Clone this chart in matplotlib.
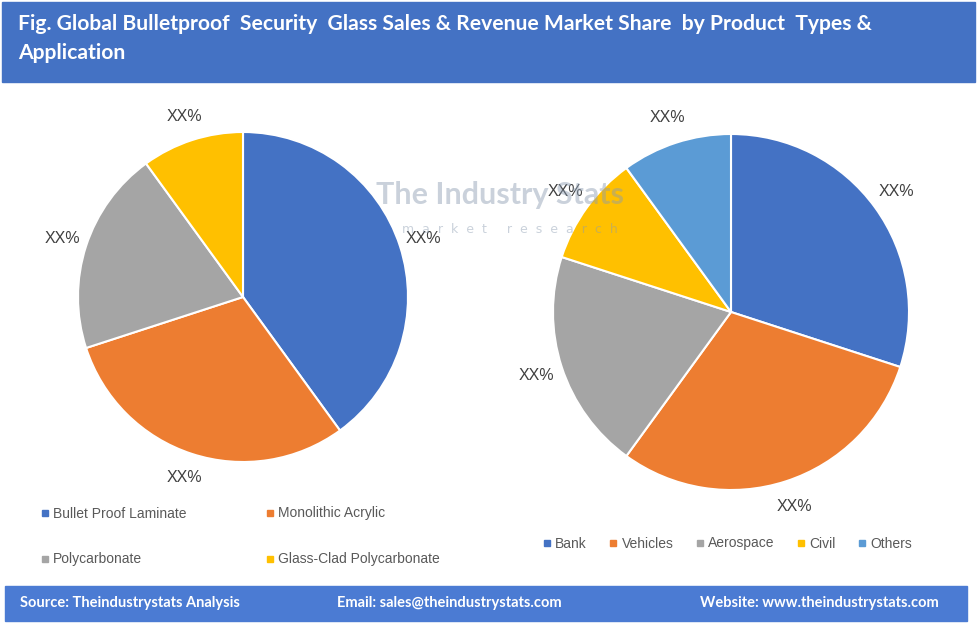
"""Bulletproof security glass market share - two pies with header/footer bands."""
import matplotlib
matplotlib.use("Agg")
import matplotlib.pyplot as plt
from matplotlib.patches import Rectangle
from matplotlib.lines import Line2D

# data
types = ["Bullet Proof Laminate", "Monolithic Acrylic", "Polycarbonate", "Glass-Clad Polycarbonate"]
type_share = [40, 30, 20, 10]
apps = ["Bank", "Vehicles", "Aerospace", "Civil", "Others"]
app_share = [30, 30, 20, 10, 10]
type_labels = ["XX%"] * len(types)
app_labels = ["XX%"] * len(apps)

COL = ["#4472C4", "#ED7D31", "#A5A5A5", "#FFC000", "#5B9BD5"]
TXT = "#404040"
W, H = 977, 627

fig = plt.figure(figsize=(W / 100, H / 100), dpi=100)


def px_axes(cx, cy, r):
    # square axes centred on pixel (cx, cy) of the image, radius r px
    return fig.add_axes([(cx - r) / W, (H - cy - r) / H, 2 * r / W, 2 * r / H])


# header / footer bands
fig.patches.append(Rectangle((2 / W, (H - 82) / H), 973 / W, 80 / H,
                             transform=fig.transFigure, color="#4472C4", zorder=0))
fig.patches.append(Rectangle((5 / W, (H - 621) / H), 962 / W, 35 / H,
                             transform=fig.transFigure, color="#4B7BD3", zorder=0))
fig.text(18 / W, (H - 24) / H, "Fig. Global Bulletproof  Security  Glass Sales & Revenue Market Share  by Product  Types &",
         color="white", fontsize=15.2, fontweight="bold", va="center", ha="left", family="Lato")
fig.text(18 / W, (H - 53) / H, "Application",
         color="white", fontsize=15.2, fontweight="bold", va="center", ha="left", family="Lato")
foot = dict(color="white", fontsize=10.5, fontweight="bold", va="center", family="Lato")
fig.text(20 / W, (H - 603) / H, "Source: Theindustrystats Analysis", ha="left", **foot)
fig.text(337 / W, (H - 603) / H, "Email: sales@theindustrystats.com", ha="left", **foot)
fig.text(700 / W, (H - 603) / H, "Website: www.theindustrystats.com", ha="left", **foot)

lab = dict(color=TXT, fontsize=11.5, family="Liberation Sans")

# left pie
ax1 = px_axes(243, 297, 165)
_, t1 = ax1.pie(type_share, colors=COL[:4], startangle=90, counterclock=False,
                labels=type_labels, labeldistance=1.15,
                wedgeprops=dict(edgecolor="white", linewidth=1.5), textprops=lab)
ax1.set_xlim(-1, 1); ax1.set_ylim(-1, 1)

# right pie
ax2 = px_axes(731, 312, 178)
_, t2 = ax2.pie(app_share, colors=COL, startangle=90, counterclock=False,
                labels=app_labels, labeldistance=1.15,
                wedgeprops=dict(edgecolor="white", linewidth=1.5), textprops=lab)
ax2.set_xlim(-1, 1); ax2.set_ylim(-1, 1)
for t in t1 + t2:
    t.set_ha("center"); t.set_va("center")

# legends
def handles(n):
    return [Line2D([], [], marker="s", ls="", color=COL[i], markersize=5) for i in range(n)]

h = handles(4)
order = [0, 2, 1, 3]
fig.legend([h[i] for i in order], [types[i] for i in order], ncol=2,
           loc="upper left", bbox_to_anchor=(28 / W, (H - 494) / H),
           frameon=False, prop=dict(family="Liberation Sans", size=10),
           handlelength=0.6, handletextpad=0.3,
           columnspacing=5.7, labelspacing=2.3, labelcolor="#595959")
fig.legend(handles(5), apps, ncol=5, loc="upper left",
           bbox_to_anchor=(530 / W, (H - 524) / H), frameon=False,
           prop=dict(family="Liberation Sans", size=10),
           handlelength=0.6, handletextpad=0.3, columnspacing=1.6, labelcolor="#595959")

# watermark
fig.text(500 / W, (H - 195) / H, "The Industry Stats", color="#8a9bb0", alpha=0.45,
         fontsize=22, fontweight="bold", ha="center", va="center", family="Lato", zorder=10)
fig.text(510 / W, (H - 229) / H, "m  a  r  k  e  t     r  e  s  e  a  r  c  h", color="#8a9bb0",
         alpha=0.45, fontsize=9, ha="center", va="center", zorder=10)

fig.savefig("out.png", dpi=100)
